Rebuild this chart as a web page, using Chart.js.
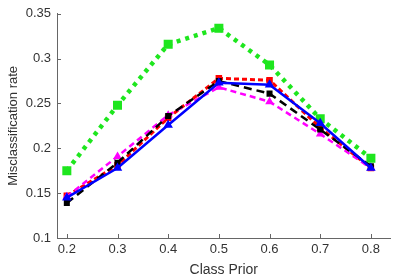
<!DOCTYPE html>
<html>
<head>
<meta charset="utf-8">
<script src="https://cdn.jsdelivr.net/npm/chart.js@4.4.0/dist/chart.umd.min.js"></script>
<style>
  html, body { margin:0; padding:0; background:#fff; }
  #wrap { width:399px; height:279px; }
</style>
</head>
<body>
<div id="wrap"><canvas id="prior_chart" width="399" height="279"></canvas></div>
<script>
// class prior on x
let priors = [0.2, 0.3, 0.4, 0.5, 0.6, 0.7, 0.8];
let yTicks = [0.1, 0.15, 0.2, 0.25, 0.3, 0.35];

let greenVals   = [0.175, 0.248, 0.316, 0.334, 0.293, 0.233, 0.189];
let redVals     = [0.147, 0.181, 0.234, 0.278, 0.276, 0.223, 0.178];
let blueVals    = [0.145, 0.178, 0.226, 0.273, 0.271, 0.228, 0.178];
let blackVals   = [0.139, 0.184, 0.236, 0.275, 0.261, 0.221, 0.180];
let magentaVals = [0.146, 0.191, 0.237, 0.268, 0.252, 0.216, 0.178];

function pts(vals) {
    let arr = new Array();
    for (let i = 0; i < priors.length; i++) {
        arr.push({x: priors[i], y: vals[i]});
    }
    return arr;
}

// inward tick marks, like the original plot
let inTicks = {
    id: "inTicks",
    afterDraw(chart) {
        let ctx = chart.ctx;
        let xs = chart.scales.x, ys = chart.scales.y;
        let a = chart.chartArea;
        ctx.save();
        ctx.strokeStyle = "#666";
        ctx.lineWidth = 1;
        ctx.beginPath();
        for (let v of priors) {
            let px = Math.round(xs.getPixelForValue(v)) + 0.5;
            ctx.moveTo(px, a.bottom);
            ctx.lineTo(px, a.bottom - 4);
        }
        for (let v of yTicks) {
            let py = Math.round(ys.getPixelForValue(v)) + 0.5;
            ctx.moveTo(a.left, py);
            ctx.lineTo(a.left + 4, py);
        }
        ctx.stroke();
        ctx.restore();
    }
};

Chart.defaults.font.family = "'Liberation Sans', Arial, sans-serif";
Chart.defaults.color = "#333333";

let chart = new Chart(document.getElementById("prior_chart"), {
    type: "line",
    plugins: [inTicks],
    data: {
        datasets: [
            { label: "blue", data: pts(blueVals), borderColor: "#0000ff", backgroundColor: "#0000ff",
              borderWidth: 2.5, pointStyle: "triangle", pointRadius: 3, order: 1 },
            { label: "black", data: pts(blackVals), borderColor: "#000000", backgroundColor: "#000000",
              borderWidth: 2.5, borderDash: [8, 5], pointStyle: "rect", pointRadius: 2.5, order: 2 },
            { label: "magenta", data: pts(magentaVals), borderColor: "#ff00ff", backgroundColor: "#ff00ff",
              borderWidth: 2.5, borderDash: [6, 4], pointStyle: "triangle", pointRadius: 2.5, order: 3 },
            { label: "red", data: pts(redVals), borderColor: "#ff0000", backgroundColor: "#ff0000",
              borderWidth: 3, borderDash: [5, 3], pointStyle: "rect", pointRadius: 2.5, order: 4 },
            { label: "green", data: pts(greenVals), borderColor: "#1ee61e", backgroundColor: "#1ee61e",
              borderWidth: 4.5, borderDash: [4, 5], pointStyle: "rect", pointRadius: 3.2, order: 5 }
        ]
    },
    options: {
        responsive: false,
        animation: false,
        layout: { padding: { top: 8, right: 2, left: 0, bottom: 0 } },
        plugins: { legend: { display: false }, tooltip: { enabled: false } },
        elements: { line: { tension: 0, fill: false }, point: { borderWidth: 0 } },
        scales: {
            x: {
                type: "linear",
                min: 0.1806, max: 0.8387,
                afterBuildTicks: s => { s.ticks = priors.map(v => ({value: v})); },
                afterFit: s => { s.height = 41; },
                grid: { display: false, drawTicks: false },
                border: { display: true, color: "#666", width: 1 },
                ticks: { font: { size: 13 }, padding: 4, callback: v => String(v) },
                title: { display: true, text: "Class Prior", font: { size: 14 }, padding: { top: 4, bottom: 0 } }
            },
            y: {
                min: 0.1, max: 0.35,
                afterBuildTicks: s => { s.ticks = yTicks.map(v => ({value: v})); },
                afterFit: s => { s.width = 57; },
                grid: { display: false, drawTicks: false },
                border: { display: true, color: "#666", width: 1 },
                ticks: { font: { size: 13 }, padding: 6, callback: v => String(Math.round(v * 100) / 100) },
                title: { display: true, text: "Misclassification rate", font: { size: 13 }, padding: { top: 6, bottom: 4 } }
            }
        }
    }
});
</script>
</body>
</html>
